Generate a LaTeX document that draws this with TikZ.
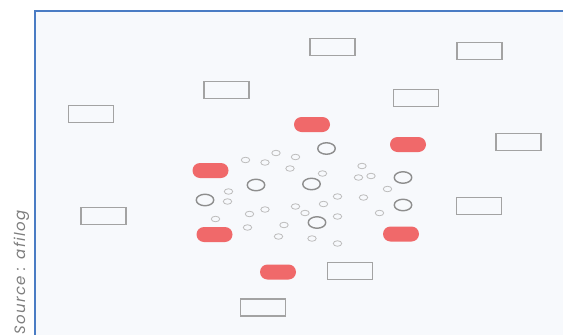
\documentclass[tikz,border=0pt]{standalone}
\usepackage{fontspec}
\newfontfamily\srcfont[LetterSpace=9]{Poppins}
\usetikzlibrary{shapes.geometric}

\definecolor{panelbg}{HTML}{F7F9FC}
\definecolor{panelline}{HTML}{4A7CC4}
\definecolor{boxline}{HTML}{A3A3A3}
\definecolor{pillred}{HTML}{F0696A}
\definecolor{ringline}{HTML}{8E8E8E}
\definecolor{dotline}{HTML}{BDBDBD}
\definecolor{srctext}{HTML}{7E7E7E}

\begin{document}
\begin{tikzpicture}[
  x=1pt, y=-1pt,
  box/.style={rectangle, draw=boxline, line width=1.3pt, fill=none,
              minimum width=45pt, minimum height=17pt, inner sep=0pt},
  pill/.style={rectangle, fill=pillred, rounded corners=7.5pt,
               minimum width=36pt, minimum height=15pt, inner sep=0pt},
  ring/.style={ellipse, draw=ringline, line width=1.4pt,
               minimum width=17.5pt, minimum height=11.5pt, inner sep=0pt},
  dot/.style={ellipse, draw=dotline, line width=0.8pt,
              minimum width=8.5pt, minimum height=5.5pt, inner sep=0pt}
]
  \useasboundingbox (0,0) rectangle (563,335);

  % Panel
  \fill[panelbg] (35,11) rectangle (563,335);
  \draw[panelline, line width=1.2pt] (35,335) -- (35,11) -- (563,11);

  % Source caption
  \node[rotate=90, anchor=base east, inner sep=0pt, text=srctext,
        font=\srcfont\itshape\fontsize{15}{17}\selectfont]
    (source) at (25,210) {Source : afilog};

  % Outer boxes
  \node[box] (b1) at (332.5,47) {};
  \node[box] (b2) at (479.5,51) {};
  \node[box] (b3) at (226.5,90) {};
  \node[box] (b4) at (416,98) {};
  \node[box] (b5) at (91,114) {};
  \node[box] (b6) at (518.5,142) {};
  \node[box] (b7) at (103.5,216) {};
  \node[box] (b8) at (479,206) {};
  \node[box] (b9) at (350,271) {};
  \node[box] (b10) at (263,307.5) {};

  % Red pills
  \node[pill] (p1) at (312,124.5) {};
  \node[pill] (p2) at (408,144.5) {};
  \node[pill] (p3) at (210.5,170.5) {};
  \node[pill] (p4) at (214.5,234.5) {};
  \node[pill] (p5) at (401,234) {};
  \node[pill] (p6) at (278,272) {};

  % Rings
  \node[ring] (r1) at (326.5,148.5) {};
  \node[ring] (r2) at (256,185) {};
  \node[ring] (r3) at (311.5,184) {};
  \node[ring] (r4) at (205,200) {};
  \node[ring] (r5) at (403,177.5) {};
  \node[ring] (r6) at (403,205) {};
  \node[ring] (r7) at (317,222.5) {};

  % Small dots
  \node[dot] (d1) at (245.5,160) {};
  \node[dot] (d2) at (265,162.5) {};
  \node[dot] (d3) at (276,153) {};
  \node[dot] (d4) at (295.5,157) {};
  \node[dot] (d5) at (290,168.5) {};
  \node[dot] (d6) at (322.5,173.5) {};
  \node[dot] (d7) at (362,166) {};
  \node[dot] (d8) at (358.5,177.5) {};
  \node[dot] (d9) at (371,176) {};
  \node[dot] (d10) at (387.5,189) {};
  \node[dot] (d11) at (228.5,191.5) {};
  \node[dot] (d12) at (227.5,201.5) {};
  \node[dot] (d13) at (337.5,196.5) {};
  \node[dot] (d14) at (363.5,197.5) {};
  \node[dot] (d15) at (249.5,214) {};
  \node[dot] (d16) at (265,209.5) {};
  \node[dot] (d17) at (295.5,206.5) {};
  \node[dot] (d18) at (305,213) {};
  \node[dot] (d19) at (323.5,204) {};
  \node[dot] (d20) at (337.5,216.5) {};
  \node[dot] (d21) at (379.5,213) {};
  \node[dot] (d22) at (215.5,219) {};
  \node[dot] (d23) at (247.5,227.5) {};
  \node[dot] (d24) at (284,225) {};
  \node[dot] (d25) at (278.5,236.5) {};
  \node[dot] (d26) at (312,238.5) {};
  \node[dot] (d27) at (337.5,243.5) {};
\end{tikzpicture}
\end{document}
